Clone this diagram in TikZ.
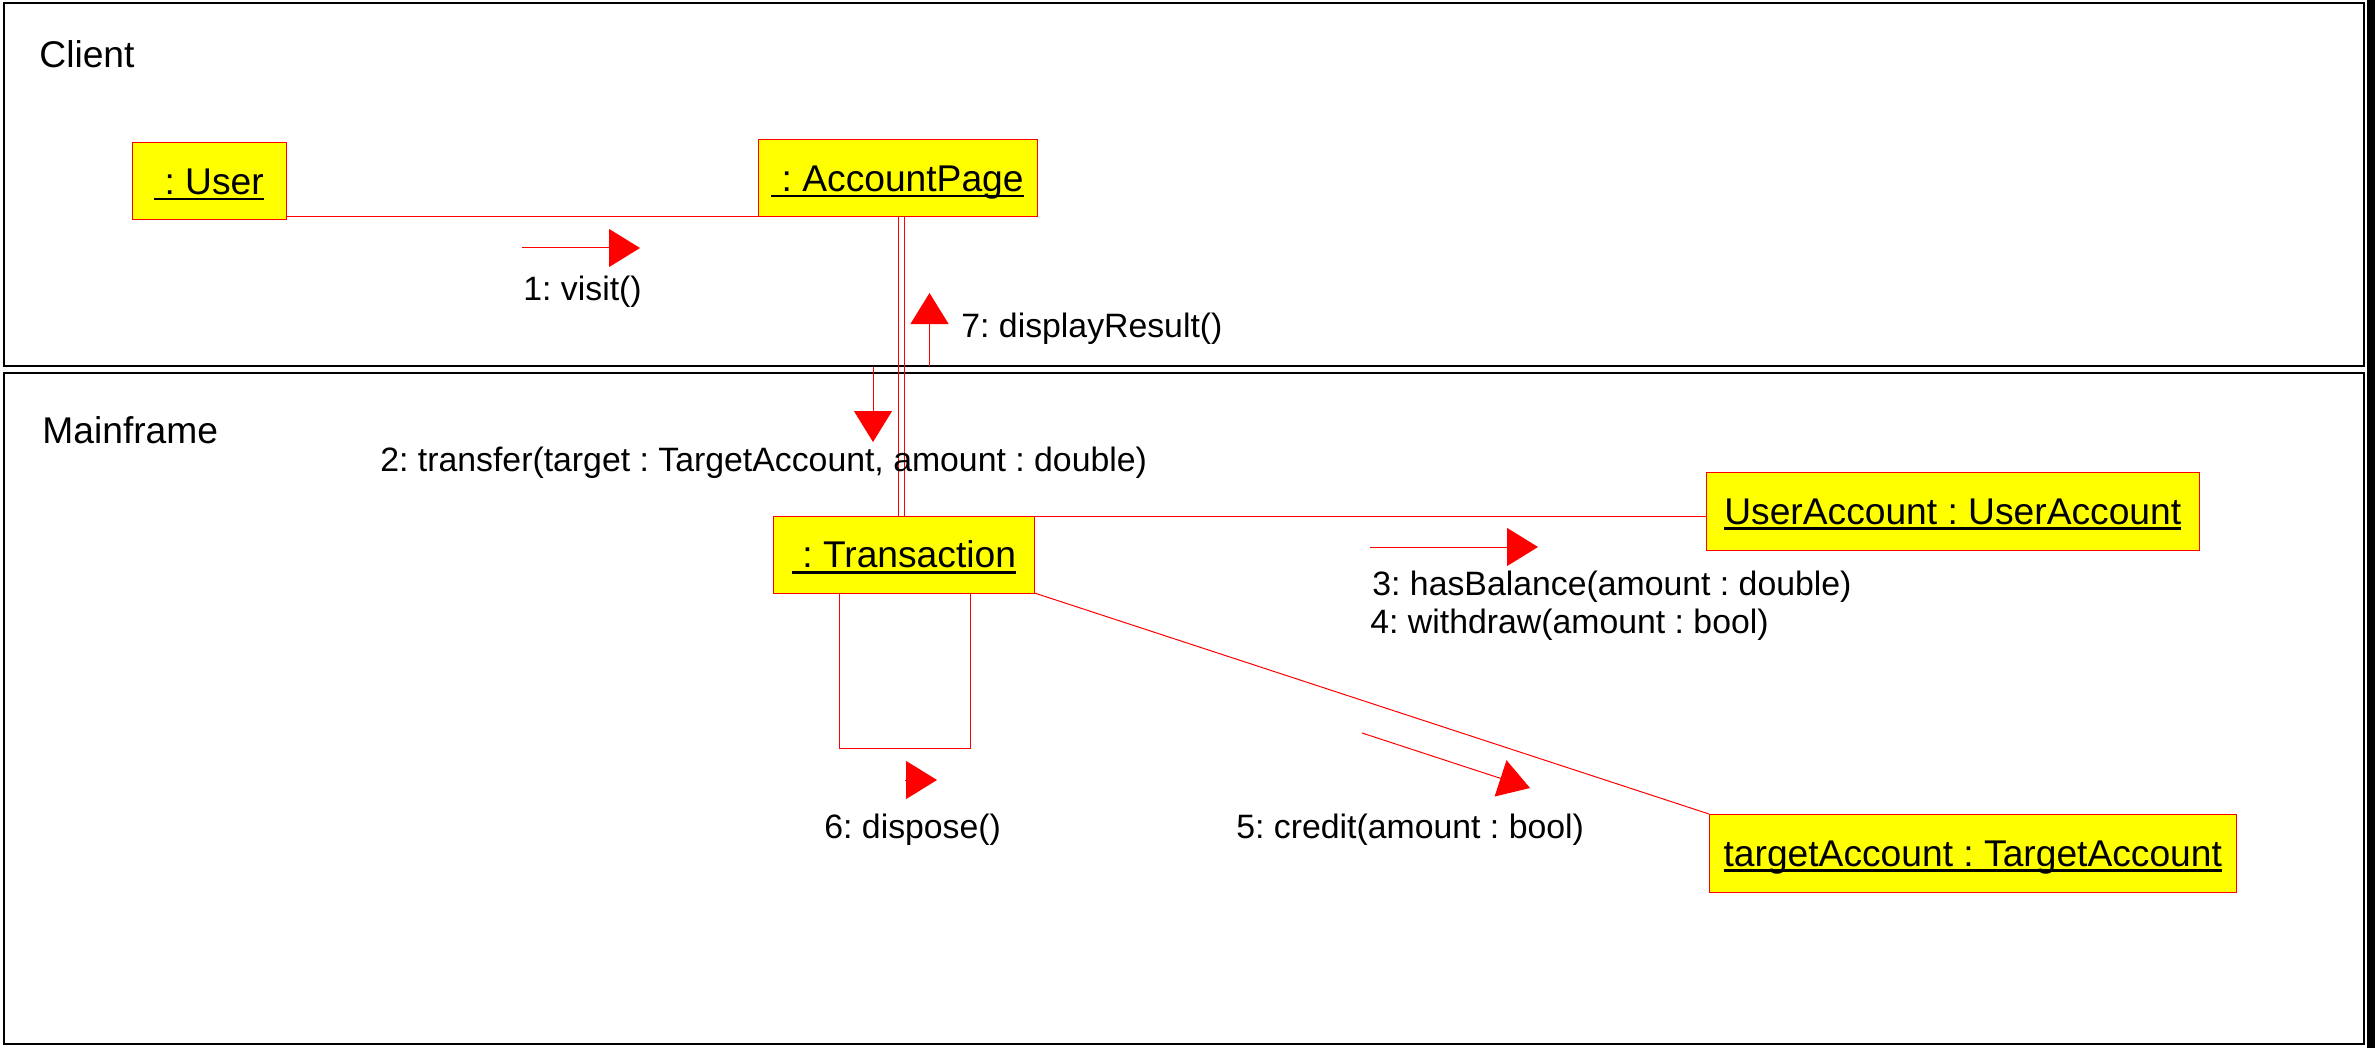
\documentclass[tikz,border=0pt]{standalone}
\usepackage{fontspec}
\setmainfont{Liberation Sans}
\usetikzlibrary{arrows.meta}
\definecolor{umlred}{RGB}{255,0,0}
\definecolor{umlyellow}{RGB}{255,255,0}
\newcommand{\objname}[1]{\setbox0\hbox{#1}\rlap{\rule[-3pt]{\wd0}{1.4pt}}\box0}
\frenchspacing
\begin{document}
\begin{tikzpicture}[x=0.5pt,y=-0.5pt,
  obj/.style={draw=umlred, fill=umlyellow, line width=0.5pt, inner sep=0pt, outer sep=0pt,
    minimum height=38.5pt, text height=13pt, text depth=0pt, font=\fontsize{18.6}{22}\selectfont},
  frameline/.style={draw=black, line width=0.6pt},
  framelabel/.style={anchor=base west, inner sep=0pt, font=\fontsize{18.6}{22}\selectfont},
  msglabel/.style={anchor=base west, inner sep=0pt, font=\fontsize{16.9}{20}\selectfont},
  link/.style={draw=umlred, line width=0.5pt},
  msg/.style={draw=umlred, line width=0.5pt, -{Triangle[length=15.5pt,width=19pt]}}
]
\useasboundingbox (0,0) rectangle (2375,1048);
% frames
\draw[frameline] (4,3) rectangle (2364,366);
\draw[frameline] (4,373) rectangle (2364,1044);
\fill[black] (2367,0) rectangle (2375,1048);
\node[framelabel] (clientlbl) at (39,68) {Client};
\node[framelabel] (mainlbl) at (42,443) {Mainframe};
% objects
\node[obj, minimum width=77pt] (user) at (209,181.5) {\objname{\ : User}};
\node[obj, minimum width=139.5pt] (page) at (897.5,178.5) {\objname{\ : AccountPage}};
\node[obj, minimum width=130.5pt] (trans) at (904,554.5) {\objname{\ : Transaction}};
\node[obj, minimum width=246.75pt, minimum height=39pt] (uacc) at (1952.75,511) {\objname{UserAccount : UserAccount}};
\node[obj, minimum width=263.75pt, minimum height=39pt] (tacc) at (1972.75,853) {\objname{targetAccount : TargetAccount}};
% links
\draw[link] (user.east |- page.south) -- (page.south west);
\draw[link] ([xshift=0.25pt]page.south) -- ([xshift=0.25pt]page.south |- trans.north);
\draw[link] (trans.north |- page.south) -- (trans.north);
\draw[link] (trans.north east) -- (trans.north east -| uacc.west);
\draw[link] (trans.south east) -- (tacc.north west);
\draw[link] ([xshift=-32.5pt]trans.south) -- ++(0,155) -| ([xshift=33pt]trans.south);
% message arrows
\coordinate (m1s) at (522,248);  \coordinate (m1e) at (640,248);
\coordinate (m2s) at (873,367);  \coordinate (m2e) at (873,442);
\coordinate (m3s) at (1370,547); \coordinate (m3e) at (1538,547);
\coordinate (m5s) at (1362,733); \coordinate (m5e) at (1530,788);
\coordinate (m6s) at (905,780);  \coordinate (m6e) at (937,780);
\coordinate (m7s) at (929.5,366); \coordinate (m7e) at (929.5,293);
\draw[msg] (m1s) -- (m1e);
\draw[msg] (m2s) -- (m2e);
\draw[msg] (m3s) -- (m3e);
\draw[msg] (m5s) -- (m5e);
\draw[msg] (m6s) -- (m6e);
\draw[msg] (m7s) -- (m7e);
% message labels
\node[msglabel] (l1) at (523,300) {1: visit()};
\node[msglabel] (l7) at (961,337) {7: displayResult()};
\node[msglabel] (l2) at (380,471) {2: transfer(target : TargetAccount, amount : double)};
\node[msglabel] (l3) at (1372,595) {3: hasBalance(amount : double)};
\node[msglabel] (l4) at (1370,633) {4: withdraw(amount : bool)};
\node[msglabel] (l5) at (1236,838) {5: credit(amount : bool)};
\node[msglabel] (l6) at (824,838) {6: dispose()};
\end{tikzpicture}
\end{document}
